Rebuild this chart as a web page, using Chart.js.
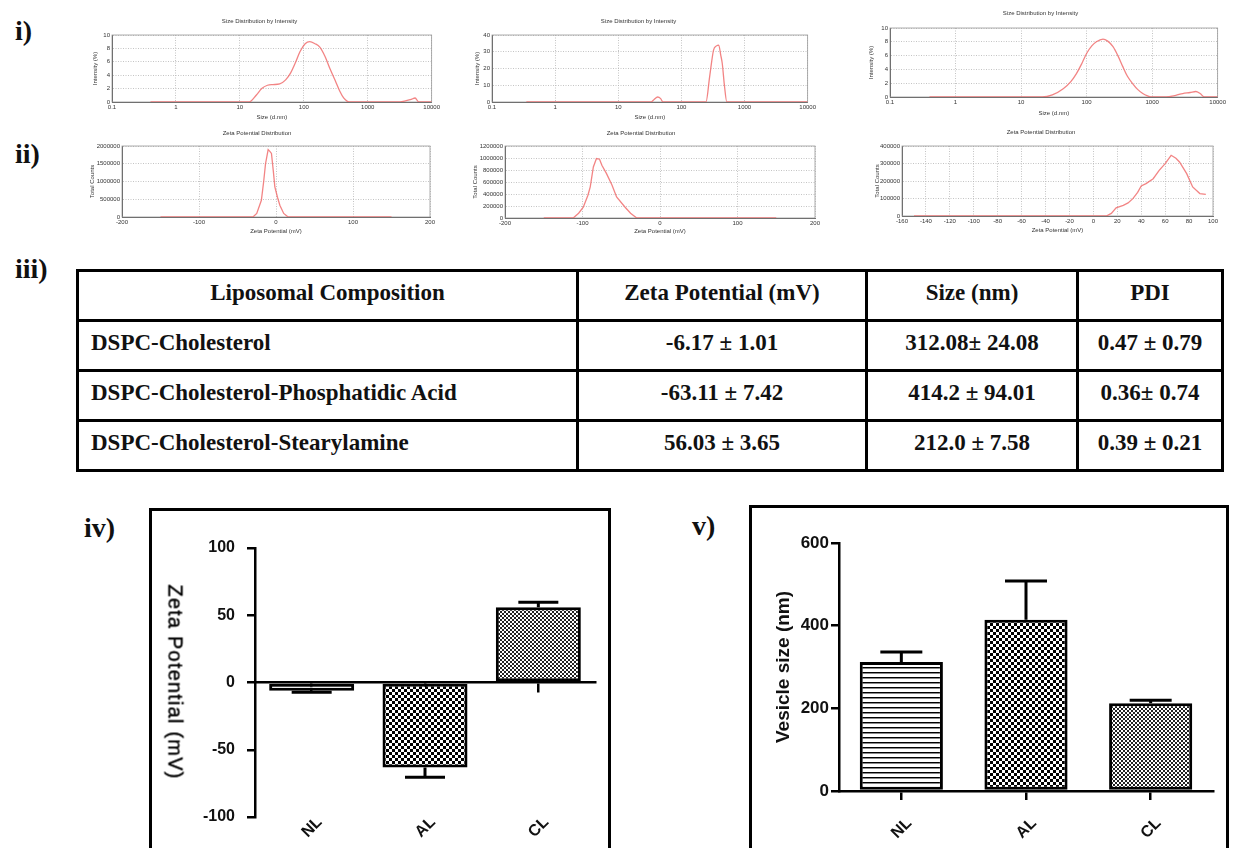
<!DOCTYPE html>
<html><head><meta charset="utf-8"><title>Liposome characterization</title>
<script src="https://cdn.jsdelivr.net/npm/chart.js@4.4.1/dist/chart.umd.min.js"></script>
<style>
html,body{margin:0;padding:0;background:#fff;width:1236px;height:848px;overflow:hidden;}
body{position:relative;}
canvas{position:absolute;}
.lbl{position:absolute;font-family:"Liberation Serif","Times New Roman",serif;font-weight:bold;font-size:28px;line-height:28px;color:#111;white-space:nowrap;}
.frame{position:absolute;border:3px solid #000;box-sizing:border-box;}
#tbl{position:absolute;left:76px;top:269px;border-collapse:collapse;table-layout:fixed;font-family:"Liberation Serif","Times New Roman",serif;font-weight:bold;font-size:23px;color:#111;}
#tbl td{border:3px solid #000;height:50px;box-sizing:border-box;padding:9px 12px 0 12px;vertical-align:top;line-height:24px;text-align:center;white-space:nowrap;}
#tbl td.first{text-align:left;}
#tbl tr.head td.first{text-align:center;}
#ytitle4{position:absolute;font-family:"Liberation Sans",Arial,sans-serif;font-size:20px;font-weight:normal;letter-spacing:1.2px;color:#000;-webkit-text-stroke:0.4px #000;white-space:nowrap;left:175px;top:682px;transform:translate(-50%,-50%) rotate(90deg);}
</style></head>
<body>
<div class="lbl" style="left:15px;top:17px;">i)</div>
<div class="lbl" style="left:15px;top:140px;">ii)</div>
<div class="lbl" style="left:15px;top:255px;">iii)</div>
<div class="lbl" style="left:84px;top:514px;">iv)</div>
<div class="lbl" style="left:692px;top:512px;">v)</div>

<table id="tbl"><colgroup><col style="width:500px"><col style="width:289px"><col style="width:211px"><col style="width:145px"></colgroup><tbody id="tbody"></tbody></table>

<div class="frame" style="left:149px;top:508px;width:462px;height:420px;"></div>
<div class="frame" style="left:749px;top:505px;width:480px;height:420px;"></div>
<canvas id="c4" width="455" height="333" style="left:152px;top:515px;width:455px;height:333px;"></canvas>
<canvas id="c5" width="470" height="336" style="left:753px;top:512px;width:470px;height:336px;"></canvas>
<div id="ytitle4">Zeta Potential (mV)</div>

<script>
// ---------- data ----------
// i) Size distribution by intensity (size in d.nm, intensity in %)
const sizeTicks = [0.1, 1, 10, 100, 1000, 10000];
const intensityTicks10 = [0, 2, 4, 6, 8, 10];
const intensityTicks40 = [0, 10, 20, 30, 40];
const nlSize = [0.4, 14, 18, 22, 27, 33, 42, 52, 62, 75, 87, 105, 124, 150, 178, 215, 256, 310, 366, 420, 480, 540, 3200, 4000, 4800, 5500, 6300, 10000];
const nlIntensity = [0, 0, 1.0, 2.0, 2.5, 2.6, 2.7, 3.3, 4.3, 6.0, 7.5, 8.7, 9.0, 8.7, 8.2, 6.8, 5.0, 3.2, 1.6, 0.6, 0.1, 0, 0, 0.2, 0.4, 0.6, 0, 0];
const alSize = [0.35, 33, 37, 42, 47, 51, 245, 280, 323, 360, 390, 420, 444, 480, 525, 10000];
const alIntensity = [0, 0, 1.5, 3.0, 2.0, 0, 0, 15, 31, 33.5, 34, 28, 23, 10, 0, 0];
const clSize = [0.4, 21, 30, 44, 57, 70, 85, 100, 120, 141, 178, 210, 253, 300, 357, 420, 504, 600, 719, 850, 960, 1630, 2300, 2930, 3800, 4650, 5400, 6300, 10000];
const clIntensity = [0, 0, 0.3, 1.2, 2.2, 3.4, 4.9, 6.3, 7.4, 8.0, 8.4, 8.1, 7.3, 6.0, 4.4, 3.0, 1.95, 1.1, 0.5, 0.15, 0, 0, 0.25, 0.5, 0.65, 0.8, 0.5, 0, 0];

// ii) Zeta potential distribution (mV, total counts)
const zetaTicksWide = [-200, -100, 0, 100, 200];
const zetaTicksCL = [-160, -140, -120, -100, -80, -60, -40, -20, 0, 20, 40, 60, 80, 100];
const countTicksNL = [0, 500000, 1000000, 1500000, 2000000];
const countTicksAL = [0, 200000, 400000, 600000, 800000, 1000000, 1200000];
const countTicksCL = [0, 100000, 200000, 300000, 400000];
const nlZeta = [-150, -30, -25, -19, -16, -13.6, -10.2, -8, -5.9, -3.5, -1.5, 2, 5, 10, 15.8, 150];
const nlCounts = [0, 0, 100000, 470000, 1000000, 1500000, 1900000, 1850000, 1790000, 1300000, 850000, 550000, 330000, 100000, 0, 0];
const alZeta = [-150, -112, -105, -99, -93, -90, -86, -82, -78, -75, -69, -62, -56, -45, -38, -30, 150];
const alCounts = [0, 0, 80000, 180000, 380000, 520000, 850000, 990000, 980000, 880000, 740000, 550000, 350000, 180000, 80000, 0, 0];
const clZeta = [-150, 10.8, 15, 19, 25, 29, 33, 37, 40, 44, 50, 55, 60, 65, 69, 72, 78, 83, 89, 94];
const clCounts = [0, 0, 15000, 47000, 61000, 75000, 99000, 135000, 172000, 185000, 213000, 261000, 299000, 347000, 330000, 309000, 242000, 166000, 128000, 124000];

// iii) table
const tableHeader = ['Liposomal Composition', 'Zeta Potential (mV)', 'Size (nm)', 'PDI'];
const compositions = ['DSPC-Cholesterol', 'DSPC-Cholesterol-Phosphatidic Acid', 'DSPC-Cholesterol-Stearylamine'];
const zetaText = ['-6.17 ± 1.01', '-63.11 ± 7.42', '56.03 ± 3.65'];
const sizeText = ['312.08± 24.08', '414.2 ± 94.01', '212.0 ± 7.58'];
const pdiText = ['0.47 ± 0.79', '0.36± 0.74', '0.39 ± 0.21'];

// iv) / v) bar charts
const groups = ['NL', 'AL', 'CL'];
const zetaMean = [-6.17, -63.11, 56.03];
const zetaSD = [1.01, 7.42, 3.65];
const zetaAxisTicks = [-100, -50, 0, 50, 100];
const sizeMean = [312.08, 414.2, 212.0];
const sizeSD = [24.08, 94.01, 7.58];
const sizeAxisTicks = [0, 200, 400, 600];

// ---------- table ----------
(function(){
  const tb = document.getElementById('tbody');
  const head = document.createElement('tr'); head.className = 'head';
  tableHeader.forEach((h, i) => { const td = document.createElement('td'); td.textContent = h; if (i === 0) td.className = 'first'; head.appendChild(td); });
  tb.appendChild(head);
  compositions.forEach((c, r) => {
    const tr = document.createElement('tr');
    [c, zetaText[r], sizeText[r], pdiText[r]].forEach((t, i) => { const td = document.createElement('td'); td.textContent = t; if (i === 0) td.className = 'first'; tr.appendChild(td); });
    tb.appendChild(tr);
  });
})();

// ---------- small instrument charts ----------
const SF = '"Liberation Sans", Arial, sans-serif';
const framePlugin = {
  id: 'frameBox',
  beforeDatasetsDraw(chart) {
    const a = chart.chartArea, ctx = chart.ctx;
    ctx.save(); ctx.strokeStyle = '#9a9a9a'; ctx.lineWidth = 0.8;
    ctx.strokeRect(a.left, a.top, a.right - a.left, a.bottom - a.top);
    ctx.restore();
  }
};
function smallChart(cfg) {
  const fs = 6, lh = fs * 1.2;
  const area = cfg.area;
  const left = cfg.yTitleX - 8, top = cfg.titleY - 8, right = area.x2 + 10, bottom = cfg.xTitleY + 6;
  const cv = document.createElement('canvas');
  cv.width = right - left; cv.height = bottom - top;
  cv.style.left = left + 'px'; cv.style.top = top + 'px';
  cv.style.width = (right - left) + 'px'; cv.style.height = (bottom - top) + 'px';
  document.body.appendChild(cv);
  const font = { size: fs, family: SF, weight: 'normal' };
  const tPadTop = cfg.titleY - top - lh / 2;
  const tPadBot = area.y1 - top - tPadTop - lh;
  new Chart(cv, {
    type: 'line',
    data: { datasets: [{ data: cfg.xs.map((x, i) => ({ x: x, y: cfg.ys[i] })), borderColor: 'rgba(240,110,110,0.85)', borderWidth: 1.3, pointRadius: 0, fill: false, cubicInterpolationMode: cfg.smooth ? 'monotone' : 'default', tension: 0 }] },
    options: {
      responsive: false, animation: false, maintainAspectRatio: false,
      layout: { padding: { left: 0, right: right - area.x2, top: 0, bottom: 0 } },
      plugins: {
        legend: { display: false }, tooltip: { enabled: false },
        title: { display: true, text: cfg.title, font: font, color: '#333', padding: { top: tPadTop, bottom: tPadBot } }
      },
      scales: {
        x: {
          type: cfg.xType, min: cfg.xTicks[0], max: cfg.xTicks[cfg.xTicks.length - 1],
          afterBuildTicks(s) { s.ticks = cfg.xTicks.map(v => ({ value: v })); },
          afterFit(s) { s.height = bottom - area.y2; },
          ticks: { font: font, color: '#333', padding: 2, maxRotation: 0, autoSkip: false, callback: v => String(v) },
          grid: { color: '#b5b5b5', lineWidth: 0.8, drawTicks: false },
          border: { display: true, color: '#555', width: 1, dash: [1, 1.5] },
          title: { display: true, text: cfg.xTitle, font: font, color: '#333', padding: { top: 0, bottom: bottom - cfg.xTitleY - lh / 2 } }
        },
        y: {
          type: 'linear', min: cfg.yTicks[0], max: cfg.yTicks[cfg.yTicks.length - 1],
          afterBuildTicks(s) { s.ticks = cfg.yTicks.map(v => ({ value: v })); },
          afterFit(s) { s.width = area.x1 - left; },
          ticks: { font: font, color: '#333', padding: 2, autoSkip: false, callback: v => String(v) },
          grid: { color: '#b5b5b5', lineWidth: 0.8, drawTicks: false },
          border: { display: true, color: '#555', width: 1, dash: [1, 1.5] },
          title: { display: true, text: cfg.yTitle, font: font, color: '#333', padding: { top: cfg.yTitleX - left - lh / 2, bottom: 0 } }
        }
      }
    },
    plugins: [framePlugin]
  });
}
const sizeTitle = 'Size Distribution by Intensity', zetaTitle = 'Zeta Potential Distribution';
smallChart({ area: { x1: 112, y1: 35, x2: 432, y2: 102 }, titleY: 21, xTitleY: 117, yTitleX: 95, title: sizeTitle, xTitle: 'Size (d.nm)', yTitle: 'Intensity (%)', xType: 'logarithmic', xTicks: sizeTicks, yTicks: intensityTicks10, xs: nlSize, ys: nlIntensity, smooth: true });
smallChart({ area: { x1: 492, y1: 35, x2: 808, y2: 102 }, titleY: 21, xTitleY: 117, yTitleX: 477, title: sizeTitle, xTitle: 'Size (d.nm)', yTitle: 'Intensity (%)', xType: 'logarithmic', xTicks: sizeTicks, yTicks: intensityTicks40, xs: alSize, ys: alIntensity, smooth: true });
smallChart({ area: { x1: 890, y1: 28, x2: 1218, y2: 97 }, titleY: 13, xTitleY: 113, yTitleX: 871, title: sizeTitle, xTitle: 'Size (d.nm)', yTitle: 'Intensity (%)', xType: 'logarithmic', xTicks: sizeTicks, yTicks: intensityTicks10, xs: clSize, ys: clIntensity, smooth: true });
smallChart({ area: { x1: 122, y1: 146, x2: 430, y2: 217 }, titleY: 133, xTitleY: 231, yTitleX: 92, title: zetaTitle, xTitle: 'Zeta Potential (mV)', yTitle: 'Total Counts', xType: 'linear', xTicks: zetaTicksWide, yTicks: countTicksNL, xs: nlZeta, ys: nlCounts, smooth: false });
smallChart({ area: { x1: 505, y1: 146, x2: 815, y2: 218 }, titleY: 133, xTitleY: 231, yTitleX: 475, title: zetaTitle, xTitle: 'Zeta Potential (mV)', yTitle: 'Total Counts', xType: 'linear', xTicks: zetaTicksWide, yTicks: countTicksAL, xs: alZeta, ys: alCounts, smooth: false });
smallChart({ area: { x1: 902, y1: 146, x2: 1213, y2: 216 }, titleY: 132, xTitleY: 230, yTitleX: 877, title: zetaTitle, xTitle: 'Zeta Potential (mV)', yTitle: 'Total Counts', xType: 'linear', xTicks: zetaTicksCL, yTicks: countTicksCL, xs: clZeta, ys: clCounts, smooth: false });

// ---------- bar charts ----------
const BF = '"Liberation Sans", Arial, sans-serif';
function makePattern(ctx, kind) {
  const c = document.createElement('canvas'); const g = c.getContext('2d');
  if (kind === 'h') {
    c.width = 4; c.height = 5;
    g.fillStyle = '#fff'; g.fillRect(0, 0, 4, 5);
    g.fillStyle = '#000'; g.fillRect(0, 0, 4, 1);
    g.fillStyle = '#888'; g.fillRect(0, 1, 4, 1);
  } else {
    const s = kind === 'c' ? 3 : 2;
    c.width = c.height = 2 * s;
    g.fillStyle = '#fff'; g.fillRect(0, 0, 2 * s, 2 * s);
    g.fillStyle = kind === 'c' ? '#000' : '#222';
    g.fillRect(0, 0, s, s); g.fillRect(s, s, s, s);
  }
  return ctx.createPattern(c, 'repeat');
}
const errorBars = {
  id: 'errorBars',
  afterDatasetsDraw(chart, args, opts) {
    const ctx = chart.ctx, meta = chart.getDatasetMeta(0), ys = chart.scales.y;
    const vals = chart.data.datasets[0].data;
    ctx.save(); ctx.strokeStyle = '#000'; ctx.lineWidth = 3;
    meta.data.forEach((bar, i) => {
      const v = vals[i], e = opts.errors[i];
      const y0 = ys.getPixelForValue(v), y1 = ys.getPixelForValue(v + Math.sign(v) * e);
      ctx.beginPath();
      ctx.moveTo(bar.x, y0); ctx.lineTo(bar.x, y1);
      ctx.moveTo(bar.x - opts.cap / 2, y1); ctx.lineTo(bar.x + opts.cap / 2, y1);
      ctx.stroke();
    });
    ctx.restore();
  }
};

(function(){
  const cv = document.getElementById('c4'); const ctx = cv.getContext('2d');
  const pats = [makePattern(ctx, 'h'), makePattern(ctx, 'c'), makePattern(ctx, 'f')];
  new Chart(cv, {
    type: 'bar',
    data: { labels: groups, datasets: [{ data: zetaMean, backgroundColor: pats, borderColor: '#000', borderWidth: 3, borderSkipped: false, barPercentage: 0.75, categoryPercentage: 1 }] },
    options: {
      responsive: false, animation: false, maintainAspectRatio: false,
      layout: { padding: { left: 0, right: 12, top: 33, bottom: 0 } },
      plugins: { legend: { display: false }, tooltip: { enabled: false }, errorBars: { errors: zetaSD, cap: 40 } },
      scales: {
        x: {
          ticks: { font: { family: BF, size: 16, weight: 'bold' }, color: '#111', minRotation: 45, maxRotation: 45, padding: -4, labelOffset: 8 },
          grid: { display: false, drawTicks: false }, border: { display: false },
          afterFit(s) { s.height = 31; }
        },
        x2: {
          type: 'category', position: { y: 0 }, offset: true, z: 1,
          ticks: { display: false },
          grid: { offset: false, drawOnChartArea: false, drawTicks: true, tickLength: 9, color: '#000', lineWidth: 2.5 },
          border: { display: true, color: '#000', width: 2.5 }
        },
        y: {
          min: zetaAxisTicks[0], max: zetaAxisTicks[zetaAxisTicks.length - 1],
          afterBuildTicks(s) { s.ticks = zetaAxisTicks.map(v => ({ value: v })); },
          ticks: { font: { family: BF, size: 16, weight: 'bold' }, color: '#111', padding: 12 },
          grid: { drawOnChartArea: false, tickLength: 8, color: '#000', lineWidth: 2.5 },
          border: { display: true, color: '#000', width: 2.5 },
          afterFit(s) { s.width = 103; }
        }
      }
    },
    plugins: [errorBars]
  });
})();

(function(){
  const cv = document.getElementById('c5'); const ctx = cv.getContext('2d');
  const pats = [makePattern(ctx, 'h'), makePattern(ctx, 'c'), makePattern(ctx, 'f')];
  new Chart(cv, {
    type: 'bar',
    data: { labels: groups, datasets: [{ data: sizeMean, backgroundColor: pats, borderColor: '#000', borderWidth: 3, borderSkipped: false, barPercentage: 0.667, categoryPercentage: 1 }] },
    options: {
      responsive: false, animation: false, maintainAspectRatio: false,
      layout: { padding: { left: 0, right: 10, top: 31, bottom: 0 } },
      plugins: { legend: { display: false }, tooltip: { enabled: false }, errorBars: { errors: sizeSD, cap: 42 } },
      scales: {
        x: {
          ticks: { font: { family: BF, size: 16, weight: 'bold' }, color: '#111', minRotation: 45, maxRotation: 45, padding: 14, labelOffset: 8 },
          grid: { offset: false, drawOnChartArea: false, drawTicks: true, tickLength: 9, color: '#000', lineWidth: 2.5 },
          border: { display: true, color: '#000', width: 2.5 },
          afterFit(s) { s.height = 57; }
        },
        y: {
          min: sizeAxisTicks[0], max: sizeAxisTicks[sizeAxisTicks.length - 1],
          afterBuildTicks(s) { s.ticks = sizeAxisTicks.map(v => ({ value: v })); },
          ticks: { font: { family: BF, size: 17, weight: 'bold' }, color: '#111', padding: 2 },
          grid: { drawOnChartArea: false, tickLength: 8, color: '#000', lineWidth: 2.5 },
          border: { display: true, color: '#000', width: 2.5 },
          title: { display: true, text: 'Vesicle size (nm)', font: { family: BF, size: 19, weight: 'bold' }, color: '#111', padding: { top: 19, bottom: 0 } },
          afterFit(s) { s.width = 86; }
        }
      }
    },
    plugins: [errorBars]
  });
})();
</script>
</body></html>
